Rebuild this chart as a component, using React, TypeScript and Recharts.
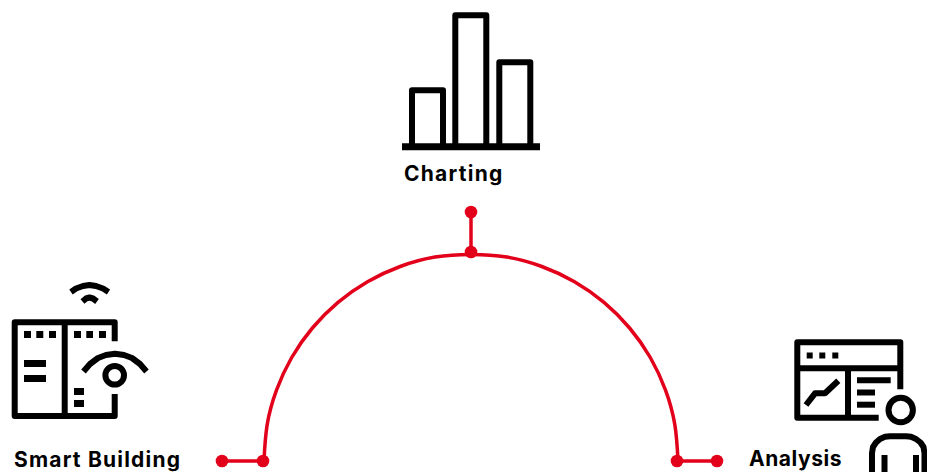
import { ScatterChart, Scatter, XAxis, YAxis } from 'recharts'

type Pt = [number, number]

const RED = '#e2001a'
const INK = '#000000'
const FONT = 'Inter, "Noto Sans", sans-serif'

// everything in page pixels
const ARC: Pt[] = [
  [264, 461], [267.1, 425.1], [276.5, 390.2], [291.7, 357.5], [312.4, 328], [338, 302.4],
  [367.5, 281.7], [400.2, 266.5], [435.1, 257.1], [471, 254.5], [506.9, 257.1], [541.8, 266.5],
  [574.5, 281.7], [604, 302.4], [629.6, 328], [650.3, 357.5], [665.5, 390.2], [674.9, 425.1], [678, 461],
]
const STEMS: Pt[][] = [
  [[222, 461], [263, 461]],
  [[471, 212], [471, 252]],
  [[677, 461], [717, 461]],
]
const NODES: Pt[] = [[222, 461], [263, 461], [471, 212], [471, 252], [677, 461], [717, 461]]

const CHART_BASE: Pt[][] = [[[402, 146.7], [540, 146.7]]]
const CHART_ICON: Pt[][] = [
  [[412, 147], [412, 90.3], [443, 90.3], [443, 147]],
  [[455.3, 147], [455.3, 15.3], [486.3, 15.3], [486.3, 147]],
  [[499.3, 147], [499.3, 62.3], [530.3, 62.3], [530.3, 147]],
]

const BUILDING_ICON: Pt[][] = [
  [[114.7, 341.3], [114.7, 322.3], [14.7, 322.3], [14.7, 416], [114.7, 416], [114.7, 394]],
  [[64.7, 322], [64.7, 416]],
  [[83.5, 371.5], [90, 364], [98, 358], [106, 355], [115, 353.7], [124, 355], [132, 358], [140, 364], [146.5, 371.5]],
  [[71, 292], [76, 288.5], [83, 286], [89.5, 285], [96, 286], [103, 288.5], [108.5, 292]],
  [[82.5, 301.5], [86, 298.5], [89.5, 297.5], [93, 298.5], [97, 301.5]],
]
const BUILDING_BLOCKS: Pt[][] = [
  [[24, 334.5], [31, 334.5]],
  [[36.3, 334.5], [43.3, 334.5]],
  [[49, 334.5], [56, 334.5]],
  [[74, 334.5], [81, 334.5]],
  [[86.3, 334.5], [93, 334.5]],
  [[99, 334.5], [106, 334.5]],
  [[24, 363.5], [46, 363.5]],
  [[24, 378.5], [46, 378.5]],
  [[74, 391.5], [84, 391.5]],
  [[74, 403.5], [84, 403.5]],
]

const ANALYSIS_ICON: Pt[][] = [
  [[900.3, 389.3], [900.3, 342.3], [797.3, 342.3], [797.3, 417.7], [878.7, 417.7]],
  [[797, 368.3], [900, 368.3]],
  [[848, 368], [848, 418]],
  [[806, 405], [815, 393.3], [825, 393.3], [838.3, 380.7]],
  [[857, 380.3], [890.7, 380.3]],
  [[857, 392.5], [875, 392.5]],
  [[857, 404.7], [875, 404.7]],
  [[872, 472], [872, 453], [873, 447], [876, 442.5], [880, 439], [885, 436.8], [890, 436.3], [906, 436.3], [911, 436.8], [916, 439], [920.5, 442.5], [923.5, 447], [924.5, 453], [924.5, 472]],
  [[884.5, 455], [884.5, 472]],
  [[916, 455], [916, 472]],
]
const ANALYSIS_DOTS: Pt[][] = [
  [[806.7, 355.5], [812.7, 355.5]],
  [[819.3, 355.5], [825.3, 355.5]],
  [[832.3, 355.5], [838.3, 355.5]],
]

const RINGS: Pt[] = [[114.7, 375.3], [900.7, 410]]

const LABELS = ['Charting', 'Smart Building', 'Analysis']
const LABEL_AT: Pt[] = [[404, 181], [14, 467], [749, 466]]
const LABEL_TRACKING = [1.25, 1.2, 0.55]

const rows = (pts: Pt[]) => pts.map(([x, y]) => ({ x, y }))
const labelRows = LABELS.map((name, i) => ({ name, x: LABEL_AT[i][0], y: LABEL_AT[i][1] }))
const noMark = () => <g />

function pathSeries(paths: Pt[][], key: string, stroke: string, strokeWidth: number) {
  return paths.map((p, i) => (
    <Scatter
      key={`${key}-${i}`}
      data={rows(p)}
      shape={noMark}
      line={{ stroke, strokeWidth, strokeLinejoin: 'round' }}
      isAnimationActive={false}
    />
  ))
}

export default function App() {
  return (
    <div style={{ position: 'absolute', left: 0, top: 0, width: 927, height: 472, overflow: 'hidden' }}>
      <ScatterChart width={927} height={472} margin={{ top: 0, right: 0, bottom: 0, left: 0 }}>
        <XAxis type="number" dataKey="x" domain={[0, 927]} allowDataOverflow hide />
        <YAxis type="number" dataKey="y" domain={[0, 472]} allowDataOverflow reversed hide />

        {pathSeries(CHART_BASE, 'base', INK, 7)}
        {pathSeries(CHART_ICON, 'chart', INK, 6)}
        {pathSeries(BUILDING_ICON, 'building', INK, 6)}
        {pathSeries(BUILDING_BLOCKS, 'blocks', INK, 7)}
        {pathSeries(ANALYSIS_ICON, 'analysis', INK, 6)}
        {pathSeries(ANALYSIS_DOTS, 'dots', INK, 6)}

        <Scatter
          data={rows(RINGS)}
          isAnimationActive={false}
          shape={(p: any) => <circle cx={p.cx} cy={p.cy} r={p.index === 0 ? 9.3 : 12.2} fill="#fff" stroke={INK} strokeWidth={6} />}
        />

        {pathSeries(STEMS, 'stem', RED, 3.5)}
        <Scatter
          data={rows(ARC)}
          shape={noMark}
          line={{ stroke: RED, strokeWidth: 3.5 }}
          lineJointType="natural"
          isAnimationActive={false}
        />
        <Scatter
          data={rows(NODES)}
          isAnimationActive={false}
          shape={(p: any) => <circle cx={p.cx} cy={p.cy} r={6.3} fill={RED} />}
        />

        <Scatter
          data={labelRows}
          isAnimationActive={false}
          shape={(p: any) => (
            <text x={p.cx} y={p.cy} fontFamily={FONT} fontWeight={700} fontSize={21} letterSpacing={LABEL_TRACKING[p.index]} fill={INK}>
              {p.name}
            </text>
          )}
        />
      </ScatterChart>
    </div>
  )
}
